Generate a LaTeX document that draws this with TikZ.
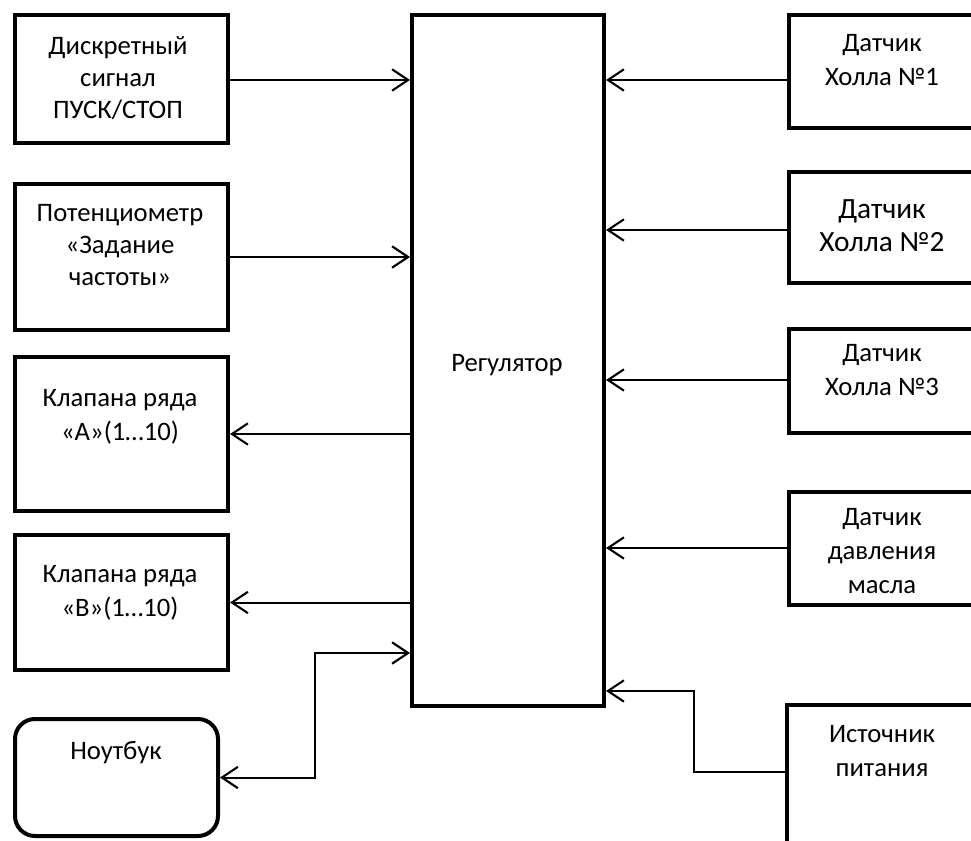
\documentclass[tikz,border=0pt]{standalone}
\usepackage{fontspec}
\setmainfont{Carlito}
\usetikzlibrary{arrows.meta}
\begin{document}
\begin{tikzpicture}[x=0.75pt,y=-0.75pt,
  blk/.style={draw=black,line width=3pt,inner sep=0pt,fill=white},
  txt/.style={align=center,inner sep=0pt,font=\fontsize{20}{25.5}\selectfont},
  txtone/.style={align=center,inner sep=0pt,font=\fontsize{20}{24}\selectfont},
  txtbig/.style={align=center,inner sep=0pt,font=\fontsize{22}{24.5}\selectfont},
  conn/.style={line width=1.5pt},
  arr/.style={conn,-{Straight Barb[length=12pt,width=16pt,line width=1.6pt]}},
  darr/.style={conn,{Straight Barb[length=12pt,width=16pt,line width=1.6pt]}-{Straight Barb[length=12pt,width=16pt,line width=1.6pt]}}]
\useasboundingbox (0,0) rectangle (971,841);
\fill[white] (0,0) rectangle (971,841);
\clip (0,0) rectangle (971,841);

% left column
\node[blk,minimum width=159.75pt,minimum height=96pt] (B1) at (121.5,79) {};
\node[blk,minimum width=159.75pt,minimum height=109.5pt] (B2) at (121.5,257) {};
\node[blk,minimum width=159.75pt,minimum height=115.5pt] (B3) at (121.5,434) {};
\node[blk,minimum width=159.75pt,minimum height=101.25pt] (B4) at (121.5,602.5) {};
\node[blk,rounded corners=15pt,minimum width=152.25pt,minimum height=87.75pt] (NB) at (116.5,777.5) {};

% regulator
\node[blk,minimum width=144pt,minimum height=518.25pt] (REG) at (508,360.5) {};

% right column (cut off at the right edge)
\node[blk,minimum width=139.5pt,minimum height=84.75pt] (R1) at (882,71.5) {};
\node[blk,minimum width=139.5pt,minimum height=83.25pt] (R2) at (882,227.5) {};
\node[blk,minimum width=139.5pt,minimum height=78pt] (R3) at (882,381) {};
\node[blk,minimum width=139.5pt,minimum height=84.75pt] (R4) at (882,548.5) {};
\node[blk,minimum width=142.5pt,minimum height=123.75pt] (R5) at (882,787.5) {};

% texts
\node[txtone] (tB1) at (118,78) {Дискретный\\сигнал\\ПУСК/СТОП};
\node[txtone] (tB2) at (120,245.5) {Потенциометр\\«Задание\\частоты»};
\node[txt] (tB3) at (120,417) {Клапана ряда\\«А»(1…10)};
\node[txt] (tB4) at (120,592.5) {Клапана ряда\\«В»(1…10)};
\node[txt] (tNB) at (116,753) {Ноутбук};
\node[txt] (tREG) at (507,365) {Регулятор};
\node[txt] (tR1) at (882,60.5) {Датчик\\Холла №1};
\node[txtbig] (tR2) at (882,226) {Датчик\\Холла №2};
\node[txt] (tR3) at (882,370.5) {Датчик\\Холла №3};
\node[txt] (tR4) at (882,551) {Датчик\\давления\\масла};
\node[txt] (tR5) at (882,751.5) {Источник\\питания};

% helper coordinates
\coordinate (y1) at (0,80);
\coordinate (y2) at (0,230);
\coordinate (y3) at (0,380);
\coordinate (y4) at (0,548);
\coordinate (nbk) at (315,653);
\coordinate (r5a) at (694,772);
\coordinate (r5b) at (694,691);

% connectors
\draw[arr] (B1.east |- y1) -- (REG.west |- y1);
\draw[arr] (B2.east) -- (REG.west |- B2.east);
\draw[arr] (REG.west |- B3.east) -- (B3.east);
\draw[arr] (REG.west |- B4.east) -- (B4.east);
\draw[darr] (NB.east) -| (nbk) -- (REG.west |- nbk);

\draw[arr] (R1.west |- y1) -- (REG.east |- y1);
\draw[arr] (R2.west |- y2) -- (REG.east |- y2);
\draw[arr] (R3.west |- y3) -- (REG.east |- y3);
\draw[arr] (R4.west |- y4) -- (REG.east |- y4);
\draw[arr] (R5.west |- r5a) -- (r5a) -- (r5b) -- (REG.east |- r5b);
\end{tikzpicture}
\end{document}
